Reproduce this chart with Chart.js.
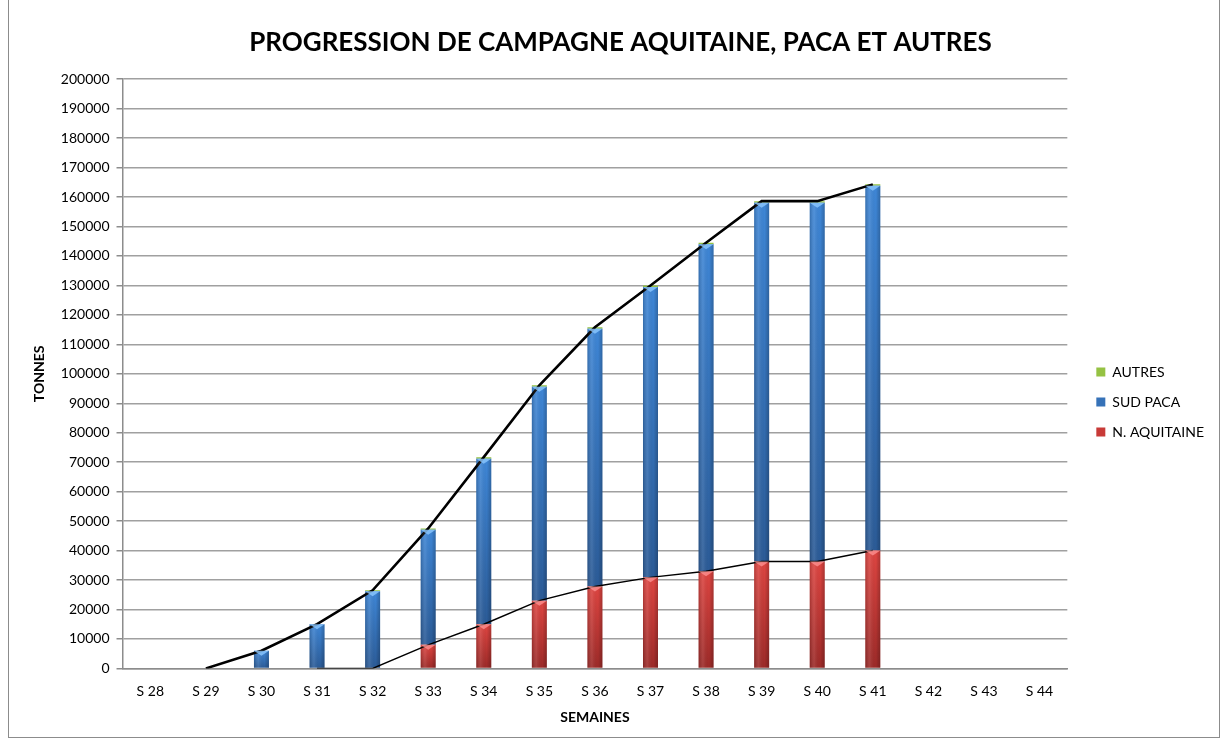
<!DOCTYPE html>
<html>
<head>
<meta charset="utf-8">
<script src="https://cdn.jsdelivr.net/npm/chart.js@4.4.1/dist/chart.umd.min.js"></script>
<style>
  html, body { margin: 0; padding: 0; background: #fff; }
  #wrap { position: absolute; left: 8px; top: 0; width: 1212px; height: 738px; border: 1px solid #8c8c8c; border-top: none; box-sizing: border-box; }
  #wrap canvas { position: absolute; left: 0; top: 0; }
</style>
</head>
<body>
<div id="wrap"><canvas id="c" width="1210" height="737"></canvas></div>
<script>
const weeks = ['S 28','S 29','S 30','S 31','S 32','S 33','S 34','S 35','S 36','S 37','S 38','S 39','S 40','S 41','S 42','S 43','S 44'];
const aquitaine = [0, 0, 0, 0, 0, 8000, 15000, 23000, 27800, 30900, 33000, 36300, 36300, 40000, null, null, null];
const sudPaca   = [0, 0, 6000, 15000, 26200, 39100, 56200, 72600, 87500, 98600, 111000, 121800, 121800, 123800, null, null, null];
const autres    = [0, 0, 0, 0, 300, 400, 500, 500, 500, 500, 500, 500, 500, 500, null, null, null];
const totalLine = [null, 0, 6000, 15000, 26500, 47500, 71700, 96100, 115800, 130000, 144500, 158600, 158600, 164300, null, null, null];
const aquitaineLine = [null, null, null, 0, 0, 8000, 15000, 23000, 27800, 30900, 33000, 36300, 36300, 40000, null, null, null];
const yTicks = [0, 10000, 20000, 30000, 40000, 50000, 60000, 70000, 80000, 90000, 100000, 110000, 120000, 130000, 140000, 150000, 160000, 170000, 180000, 190000, 200000];

const FONT = 'Lato, "Open Sans", sans-serif';
const stackOrder = [aquitaine, sudPaca, autres];
const LEGEND_EXTRA = 13;

function segGradient(ctx, dsIndex, top, bottom, fallback) {
  const chart = ctx.chart;
  const ys = chart.scales && chart.scales.y;
  if (!chart.chartArea || !ys || ctx.type !== 'data') return fallback;
  const i = ctx.dataIndex;
  let base = 0;
  for (let k = 0; k < dsIndex; k++) base += stackOrder[k][i] || 0;
  const v = stackOrder[dsIndex][i] || 0;
  const y0 = ys.getPixelForValue(base + v);
  const y1 = ys.getPixelForValue(base);
  if (!isFinite(y0) || !isFinite(y1) || Math.abs(y1 - y0) < 1) return fallback;
  const g = chart.ctx.createLinearGradient(0, y0, 0, y1);
  g.addColorStop(0, top);
  g.addColorStop(1, bottom);
  return g;
}

const legendShift = {
  id: 'legendShift',
  beforeLayout(chart) {
    const lg = chart.legend;
    if (!lg || lg._patched) return;
    lg._patched = true;
    const fit = lg.fit.bind(lg);
    lg.fit = function () { fit(); this.width += LEGEND_EXTRA; };
    const draw = lg.draw.bind(lg);
    lg.draw = function () {
      const c = this.ctx;
      c.save(); c.translate(LEGEND_EXTRA, 0); draw(); c.restore();
    };
  }
};

const shine = {
  id: 'shine',
  afterDatasetsDraw(chart) {
    const c = chart.ctx;
    [0, 1].forEach(di => {
      const meta = chart.getDatasetMeta(di);
      meta.data.forEach((bar, i) => {
        const v = stackOrder[di][i];
        if (!v) return;
        const p = bar.getProps(['x', 'y', 'base', 'width'], true);
        const left = p.x - p.width / 2, right = p.x + p.width / 2;
        const h = p.base - p.y;
        if (h < 2) return;
        const g = c.createLinearGradient(left, 0, right, 0);
        g.addColorStop(0, 'rgba(0,0,0,0.18)');
        g.addColorStop(0.3, 'rgba(255,255,255,0.10)');
        g.addColorStop(0.7, 'rgba(0,0,0,0.0)');
        g.addColorStop(1, 'rgba(0,0,0,0.22)');
        c.save();
        c.fillStyle = g;
        c.fillRect(left, p.y, p.width, h);
        const tri = Math.min(5, h / 2);
        c.beginPath();
        c.moveTo(left, p.y);
        c.lineTo(right, p.y);
        c.lineTo(p.x, p.y + tri);
        c.closePath();
        c.fillStyle = di === 0 ? 'rgba(255,150,150,0.75)' : 'rgba(140,200,255,0.8)';
        c.fill();
        c.restore();
      });
    });
  }
};

new Chart(document.getElementById('c'), {
  data: {
    labels: weeks,
    datasets: [
      {
        type: 'bar', label: 'N. AQUITAINE', data: aquitaine, stack: 's', order: 2,
        backgroundColor: ctx => segGradient(ctx, 0, '#de4541', '#9c2a28', '#c83a37'),
        borderWidth: 0, barPercentage: 0.27, categoryPercentage: 1
      },
      {
        type: 'bar', label: 'SUD PACA', data: sudPaca, stack: 's', order: 2,
        backgroundColor: ctx => segGradient(ctx, 1, '#3e86d6', '#2b5b97', '#3672b8'),
        borderWidth: 0, barPercentage: 0.27, categoryPercentage: 1
      },
      {
        type: 'bar', label: 'AUTRES', data: autres, stack: 's', order: 2,
        backgroundColor: '#95c243',
        borderWidth: 0, barPercentage: 0.27, categoryPercentage: 1
      },
      {
        type: 'line', label: 'total', data: totalLine, stack: 'l1', order: 0,
        borderColor: '#000', borderWidth: 2.6, pointRadius: 0, tension: 0, spanGaps: false, fill: false
      },
      {
        type: 'line', label: 'aquitaineLine', data: aquitaineLine, stack: 'l2', order: 1,
        borderColor: '#000', borderWidth: 1.5, pointRadius: 0, tension: 0, spanGaps: false, fill: false
      }
    ]
  },
  options: {
    responsive: false,
    animation: false,
    layout: { padding: { left: 18, right: 5, top: 22, bottom: 7 } },
    plugins: {
      title: {
        display: true,
        text: 'PROGRESSION DE CAMPAGNE AQUITAINE, PACA ET AUTRES',
        color: '#000',
        font: { family: FONT, size: 26, weight: 'bold' },
        padding: { top: 5, bottom: 21 }
      },
      legend: {
        position: 'right',
        reverse: true,
        title: { display: true, text: ' ', padding: { top: 0, bottom: 40 }, font: { size: 10 } },
        labels: {
          filter: item => item.datasetIndex < 3,
          boxWidth: 9, boxHeight: 9,
          color: '#000',
          font: { family: FONT, size: 14 },
          padding: 16
        }
      },
      tooltip: { enabled: false }
    },
    scales: {
      x: {
        stacked: true,
        grid: { display: false, drawTicks: false },
        border: { display: true, color: '#8c8c8c', width: 1.5 },
        ticks: { color: '#000', font: { family: FONT, size: 14 }, padding: 15, maxRotation: 0 },
        title: { display: true, text: 'SEMAINES', color: '#000', font: { family: FONT, size: 14, weight: 'bold' }, padding: { top: -6, bottom: 4 } }
      },
      y: {
        stacked: true,
        min: 0, max: 200000,
        afterBuildTicks: axis => { axis.ticks = yTicks.map(v => ({ value: v })); },
        grid: { color: '#a0a0a0', lineWidth: 1.5, tickLength: 6, tickColor: '#8c8c8c' },
        border: { display: true, color: '#8c8c8c', width: 1.5 },
        ticks: { color: '#000', font: { family: FONT, size: 14 }, padding: 7, callback: v => String(v) },
        title: { display: true, text: 'TONNES', color: '#000', font: { family: FONT, size: 14, weight: 'bold' }, padding: { bottom: 6 } }
      }
    }
  },
  plugins: [shine, legendShift]
});
</script>
</body>
</html>
